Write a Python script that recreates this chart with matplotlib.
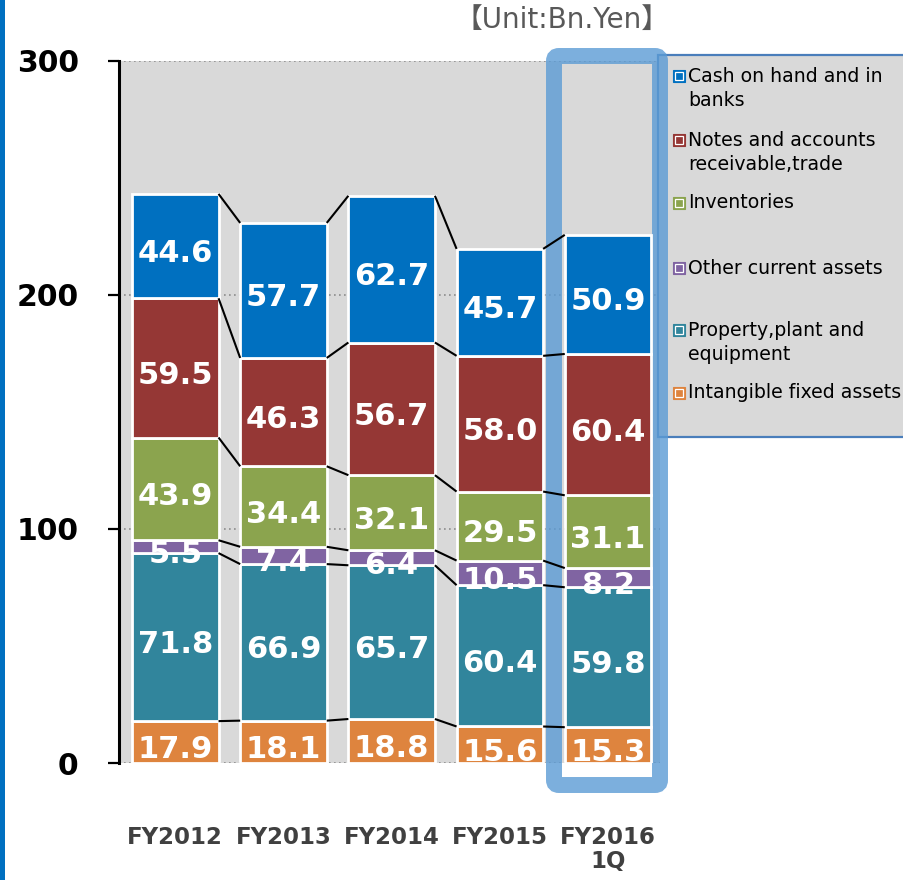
import matplotlib
matplotlib.use("Agg")
import matplotlib.pyplot as plt
import matplotlib.transforms as mtransforms
from matplotlib.patches import Rectangle, FancyBboxPatch
import numpy as np

# ---------------- data ----------------
categories = ["FY2012", "FY2013", "FY2014", "FY2015", "FY2016\n1Q"]
series_names = [
    "Intangible fixed assets",
    "Property,plant and\nequipment",
    "Other current assets",
    "Inventories",
    "Notes and accounts\nreceivable,trade",
    "Cash on hand and in\nbanks",
]
intangible = [17.9, 18.1, 18.8, 15.6, 15.3]
ppe = [71.8, 66.9, 65.7, 60.4, 59.8]
other_current = [5.5, 7.4, 6.4, 10.5, 8.2]
inventories = [43.9, 34.4, 32.1, 29.5, 31.1]
receivables = [59.5, 46.3, 56.7, 58.0, 60.4]
cash = [44.6, 57.7, 62.7, 45.7, 50.9]
series_values = [intangible, ppe, other_current, inventories, receivables, cash]
colors = ["#DE843E", "#31859C", "#8064A2", "#8BA44E", "#953735", "#0070C0"]
y_ticks = [0, 100, 200, 300]
unit_label = "【Unit:Bn.Yen】"

# ---------------- figure ----------------
W, H = 904, 880
fig = plt.figure(figsize=(W / 100, H / 100), dpi=100)
fig.patch.set_facecolor("white")

ax_l, ax_r, ax_t, ax_b = 119, 660, 61, 763
ax = fig.add_axes([ax_l / W, 1 - ax_b / H, (ax_r - ax_l) / W, (ax_b - ax_t) / H])
ax.set_facecolor("#D9D9D9")

x = np.arange(len(categories))
bar_w = 0.8
ax.set_xlim(-0.52, len(categories) - 0.52)
ax.set_ylim(0, 300)

label_tr = mtransforms.offset_copy(ax.transData, fig=fig, x=0, y=-16, units="dots")

bottom = np.zeros(len(categories))
tops = []
for vals, col in zip(series_values, colors):
    vals = np.array(vals)
    ax.bar(x, vals, bottom=bottom, width=bar_w, color=col,
           edgecolor="white", linewidth=2, zorder=2)
    for xi, b, v in zip(x, bottom, vals):
        ax.text(xi, b + v / 2, f"{v:.1f}", transform=label_tr,
                ha="center", va="baseline", fontsize=22, fontweight="bold",
                color="white", zorder=5)
    bottom = bottom + vals
    tops.append(bottom.copy())

# series lines
for top in tops:
    for i in range(len(categories) - 1):
        ax.plot([x[i] + bar_w / 2, x[i + 1] - bar_w / 2], [top[i], top[i + 1]],
                color="black", linewidth=1.5, zorder=3, solid_capstyle="butt")

# axes styling
ax.set_axisbelow(True)
ax.yaxis.grid(True, color="#8C8C8C", linestyle=(0, (1, 2)), linewidth=1.2)
ax.xaxis.grid(False)
for s in ["top", "right", "bottom"]:
    ax.spines[s].set_visible(False)
ax.spines["left"].set_linewidth(2.2)
ax.spines["left"].set_color("black")
ax.set_yticks(y_ticks)
ax.set_yticklabels([str(t) for t in y_ticks], fontsize=21.5, fontweight="bold")
ax.tick_params(axis="y", length=8, width=1.6, pad=21, colors="black")
ax.set_xticks(x)
ax.set_xticklabels(categories, fontsize=16.5, fontweight="bold", color="#404040",
                   linespacing=1.1)
ax.tick_params(axis="x", length=0, pad=45)

ident = mtransforms.IdentityTransform()

# legend box (below highlight frame)
leg_box = Rectangle((658, H - 437), 260, 382, transform=ident, facecolor="#D9D9D9",
                    edgecolor="#4A7EBB", linewidth=1.6, clip_on=False, zorder=1.2)
ax.add_artist(leg_box)

# highlight frame around latest bar
frame = FancyBboxPatch((554, H - 785), 106, 729,
                       boxstyle="round,pad=0,rounding_size=5",
                       transform=ident, facecolor="none", edgecolor="#5B9BD5",
                       linewidth=11.5, alpha=0.8, clip_on=False, zorder=1.5)
ax.add_artist(frame)

# legend entries (top to bottom)
leg_order = [5, 4, 3, 2, 1, 0]
leg_y = [76, 140, 203, 268, 330, 393]
for idx, yy in zip(leg_order, leg_y):
    col = colors[idx]
    fig.patches.append(Rectangle((673 / W, 1 - (yy + 6) / H), 12 / W, 12 / H,
                                 transform=fig.transFigure, facecolor=col,
                                 edgecolor=col, linewidth=0.8, zorder=6))
    fig.patches.append(Rectangle((675 / W, 1 - (yy + 4) / H), 8 / W, 8 / H,
                                 transform=fig.transFigure, facecolor=col,
                                 edgecolor="white", linewidth=0.9, zorder=7))
    for k, line in enumerate(series_names[idx].split("\n")):
        fig.text(688 / W, 1 - (yy + k * 24) / H, line, fontsize=13.6,
                 color="black", ha="left", va="center", zorder=8)

# unit label
fig.text(562 / W, 1 - 20 / H, unit_label, fontsize=20, color="#595959",
         family=["DejaVu Sans", "Noto Sans CJK JP"], ha="center", va="center")

# left blue strip
fig.patches.append(Rectangle((0, 0), 5 / W, 1, transform=fig.transFigure,
                             facecolor="#0070C0", edgecolor="none", zorder=9))

fig.savefig("out.png", dpi=100)
